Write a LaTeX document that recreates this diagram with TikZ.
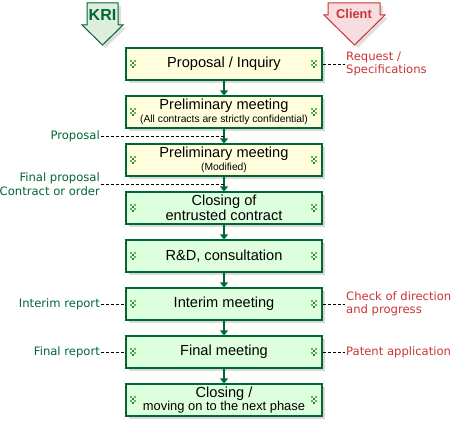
\documentclass[tikz,border=0pt]{standalone}
\usepackage{fontspec}
\setmainfont{Liberation Sans}
\newfontfamily\lblfont{DejaVu Sans}
\usetikzlibrary{shadows,arrows.meta}
\definecolor{kgreen}{HTML}{006633}
\definecolor{kred}{HTML}{CC3333}
\definecolor{byel}{HTML}{FFFFDD}
\definecolor{bgrn}{HTML}{DDFFDD}
\definecolor{agrn}{HTML}{DDEEDD}
\definecolor{apink}{HTML}{F5DDE2}
\definecolor{icA}{HTML}{55BB55}
\definecolor{icB}{HTML}{228822}
\newcommand\bmain{\fontsize{14.6}{13}\selectfont}
\newcommand\bsmall{\fontsize{10.3}{10}\selectfont}
\newcommand\bmid{\fontsize{12.9}{13}\selectfont}
\begin{document}
\begin{tikzpicture}[x=1pt,y=-1pt,
  stepbox/.style={draw=kgreen, line width=1.2pt, minimum width=196pt, minimum height=32pt,
    inner sep=0pt, align=center, font=\bmain,
    drop shadow={shadow xshift=3pt, shadow yshift=-3pt, opacity=0.3, fill=gray}},
  ybox/.style={stepbox, fill=byel},
  gbox/.style={stepbox, fill=bgrn},
  conn/.style={draw=kgreen, line width=1.3pt, -{Triangle[width=8pt,length=5pt]}},
  dline/.style={draw=black, line width=0.8pt, dash pattern=on 3pt off 2pt},
  klbl/.style={text=kgreen, font=\lblfont\fontsize{11.6}{14}\selectfont, inner sep=1pt, align=right},
  clbl/.style={text=kred, font=\lblfont\fontsize{11.6}{13.5}\selectfont, inner sep=1pt, align=left},
  icon/.pic={
    \fill[icA] (-2.6,-3.8) rectangle ++(1.7,1.7);
    \fill[icA] (0.9,-3.8) rectangle ++(1.7,1.7);
    \fill[icB] (-0.85,-2.0) rectangle ++(1.7,1.7);
    \fill[icA] (-2.6,0.3) rectangle ++(1.7,1.7);
    \fill[icA] (0.9,0.3) rectangle ++(1.7,1.7);
    \fill[icB] (-0.85,2.1) rectangle ++(1.7,1.7);
  }
]
\useasboundingbox (0,0) rectangle (454,425);

% header arrows
\path[fill=agrn, draw=kgreen, line width=1pt,
  drop shadow={shadow xshift=3pt, shadow yshift=-3pt, opacity=0.25, fill=gray}]
  (87,3) -- (118,3) -- (118,25) -- (123,25) -- (102.5,45) -- (82,25) -- (87,25) -- cycle;
\node[text=kgreen, font=\bfseries\fontsize{16}{16}\selectfont] (kri) at (102.5,15) {KRI};
\path[fill=apink, draw=kred, line width=1pt,
  drop shadow={shadow xshift=3pt, shadow yshift=-3pt, opacity=0.25, fill=gray}]
  (328,3) -- (380,3) -- (380,15) -- (385,15) -- (354.5,45) -- (324,15) -- (328,15) -- cycle;
\node[text=kred, font=\bfseries\fontsize{12.8}{13}\selectfont] (cli) at (354,14) {Client};

% boxes
\node[ybox] (b1) at (224,64) {Proposal / Inquiry};
\node[ybox] (b2) at (224,112) {Preliminary meeting\\{\bsmall (All contracts are strictly confidential)}};
\node[ybox] (b3) at (224,160) {Preliminary meeting\\{\bsmall (Modified)}};
\node[gbox] (b4) at (224,208) {Closing of\\entrusted contract};
\node[gbox] (b5) at (224,256) {R\&D, consultation};
\node[gbox] (b6) at (224,304) {Interim meeting};
\node[gbox] (b7) at (224,352) {Final meeting};
\node[gbox] (b8) at (224,400) {Closing /\\{\bmid moving on to the next phase}};

\foreach \y in {64,112,160,208,256,304,352,400}{
  \pic at (133,\y) {icon};
  \pic at (314,\y) {icon};
}

% connectors
\draw[conn] (b1) -- (b2);
\draw[conn] (b2) -- (b3);
\draw[conn] (b3) -- (b4);
\draw[conn] (b4) -- (b5);
\draw[conn] (b5) -- (b6);
\draw[conn] (b6) -- (b7);
\draw[conn] (b7) -- (b8);

% left labels
\coordinate (c1) at (224,136);
\coordinate (c2) at (224,184);
\node[klbl, anchor=east] (l1) at (101,136) {Proposal};
\node[klbl, anchor=east] (l2) at (101,184) {Final proposal\\Contract or order};
\node[klbl, anchor=east] (l3) at (101,304) {Interim report};
\node[klbl, anchor=east] (l4) at (101,352) {Final report};
\draw[dline] (l1.east) -- (c1);
\draw[dline] (l2.east) -- (c2);
\draw[dline] (l3.east) -- (b6.west);
\draw[dline] (l4.east) -- (b7.west);

% right labels
\node[clbl, anchor=west] (r1) at (345,64) {Request /\\Specifications};
\node[clbl, anchor=west] (r2) at (345,304) {Check of direction\\and progress};
\node[clbl, anchor=west] (r3) at (345,352) {Patent application};
\draw[dline] (b1.east) -- (r1.west);
\draw[dline] (b6.east) -- (r2.west);
\draw[dline] (b7.east) -- (r3.west);
\end{tikzpicture}
\end{document}
